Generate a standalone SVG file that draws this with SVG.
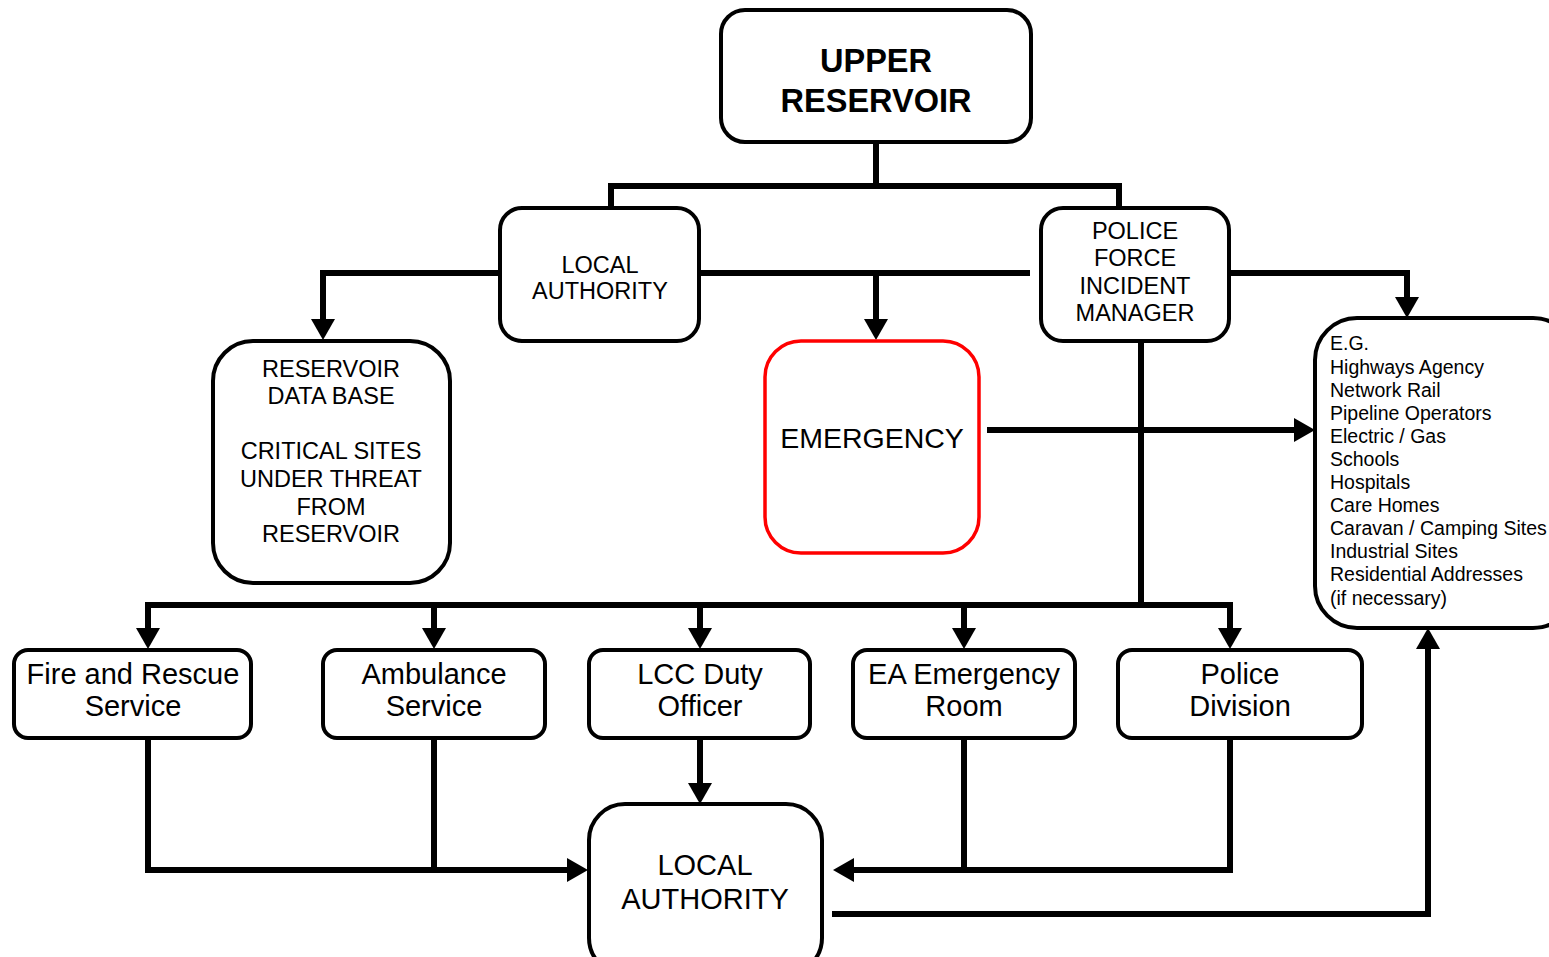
<svg xmlns="http://www.w3.org/2000/svg" width="1549" height="957" viewBox="0 0 1549 957">
<style>
.box{fill:#fff;stroke:#000;stroke-width:4}
.red{fill:#fff;stroke:#f00;stroke-width:3.5}
.c{fill:none;stroke:#000;stroke-width:6}
text{font-family:"Liberation Sans",Arial,sans-serif;fill:#000}
.m{text-anchor:middle}
</style>
<defs>
<marker id="ah" markerUnits="userSpaceOnUse" markerWidth="22" markerHeight="24" refX="0" refY="12" orient="auto" overflow="visible">
<path d="M0,0 L21,12 L0,24 z" fill="#000"/>
</marker>
</defs>
<g id="connectors">
<path class="c" d="M876,142 V186"/>
<path class="c" d="M611,208 V186 H1119 V208"/>
<path class="c" d="M500,273 H323 V319" marker-end="url(#ah)"/>
<path class="c" d="M699,273 H1030"/>
<path class="c" d="M876,273 V319" marker-end="url(#ah)"/>
<path class="c" d="M1229,273 H1407 V297" marker-end="url(#ah)"/>
<path class="c" d="M987,430 H1294" marker-end="url(#ah)"/>
<path class="c" d="M1141,341 V605"/>
<path class="c" d="M148,627 V605 H1230 V628" marker-end="url(#ah)"/>
<path class="c" d="M148,605 V628" marker-end="url(#ah)"/>
<path class="c" d="M434,605 V628" marker-end="url(#ah)"/>
<path class="c" d="M700,605 V628" marker-end="url(#ah)"/>
<path class="c" d="M964,605 V628" marker-end="url(#ah)"/>
<path class="c" d="M148,738 V870 H567" marker-end="url(#ah)"/>
<path class="c" d="M434,738 V870"/>
<path class="c" d="M700,738 V783" marker-end="url(#ah)"/>
<path class="c" d="M964,738 V870"/>
<path class="c" d="M1230,738 V870 H854" marker-end="url(#ah)"/>
<path class="c" d="M832,914 H1428 V649" marker-end="url(#ah)"/>
</g>
<g id="upper-reservoir">
<rect class="box" x="721" y="10" width="310" height="132" rx="24"/>
<text class="m" x="876" y="72" font-size="32.5" font-weight="bold">UPPER</text>
<text class="m" x="876" y="112" font-size="32.5" font-weight="bold">RESERVOIR</text>
</g>
<g id="local-authority-top">
<rect class="box" x="500" y="208" width="199" height="133" rx="22"/>
<text class="m" x="600" y="273" font-size="23.5">LOCAL</text>
<text class="m" x="600" y="299" font-size="23.5">AUTHORITY</text>
</g>
<g id="police-force">
<rect class="box" x="1041" y="208" width="188" height="133" rx="22"/>
<text class="m" x="1135" y="239" font-size="23.5">POLICE</text>
<text class="m" x="1135" y="266" font-size="23.5">FORCE</text>
<text class="m" x="1135" y="294" font-size="23.5">INCIDENT</text>
<text class="m" x="1135" y="321" font-size="23.5">MANAGER</text>
</g>
<g id="reservoir-database">
<rect class="box" x="213" y="341" width="237" height="242" rx="40"/>
<text class="m" x="331" y="377" font-size="23.5">RESERVOIR</text>
<text class="m" x="331" y="404" font-size="23.5">DATA BASE</text>
<text class="m" x="331" y="459" font-size="23.5">CRITICAL SITES</text>
<text class="m" x="331" y="487" font-size="23.5">UNDER THREAT</text>
<text class="m" x="331" y="515" font-size="23.5">FROM</text>
<text class="m" x="331" y="542" font-size="23.5">RESERVOIR</text>
</g>
<g id="emergency">
<rect class="red" x="765" y="341" width="214" height="212" rx="36"/>
<text class="m" x="872" y="448" font-size="28.5">EMERGENCY</text>
</g>
<g id="eg-list">
<rect class="box" x="1315" y="318" width="260" height="310" rx="42"/>
<g font-size="19.5">
<text x="1330" y="350">E.G.</text>
<text x="1330" y="374">Highways Agency</text>
<text x="1330" y="397">Network Rail</text>
<text x="1330" y="420">Pipeline Operators</text>
<text x="1330" y="443">Electric / Gas</text>
<text x="1330" y="466">Schools</text>
<text x="1330" y="489">Hospitals</text>
<text x="1330" y="512">Care Homes</text>
<text x="1330" y="535">Caravan / Camping Sites</text>
<text x="1330" y="558">Industrial Sites</text>
<text x="1330" y="581">Residential Addresses</text>
<text x="1330" y="605">(if necessary)</text>
</g>
</g>
<g id="fire-rescue">
<rect class="box" x="14" y="650" width="237" height="88" rx="14"/>
<text class="m" x="133" y="684" font-size="29">Fire and Rescue</text>
<text class="m" x="133" y="716" font-size="29">Service</text>
</g>
<g id="ambulance">
<rect class="box" x="323" y="650" width="222" height="88" rx="14"/>
<text class="m" x="434" y="684" font-size="29">Ambulance</text>
<text class="m" x="434" y="716" font-size="29">Service</text>
</g>
<g id="lcc-duty-officer">
<rect class="box" x="589" y="650" width="221" height="88" rx="14"/>
<text class="m" x="700" y="684" font-size="29">LCC Duty</text>
<text class="m" x="700" y="716" font-size="29">Officer</text>
</g>
<g id="ea-emergency-room">
<rect class="box" x="853" y="650" width="222" height="88" rx="14"/>
<text class="m" x="964" y="684" font-size="29">EA Emergency</text>
<text class="m" x="964" y="716" font-size="29">Room</text>
</g>
<g id="police-division">
<rect class="box" x="1118" y="650" width="244" height="88" rx="14"/>
<text class="m" x="1240" y="684" font-size="29">Police</text>
<text class="m" x="1240" y="716" font-size="29">Division</text>
</g>
<g id="local-authority-bottom">
<rect class="box" x="589" y="804" width="233" height="170" rx="36"/>
<text class="m" x="705" y="875" font-size="29">LOCAL</text>
<text class="m" x="705" y="909" font-size="29">AUTHORITY</text>
</g>
</svg>
